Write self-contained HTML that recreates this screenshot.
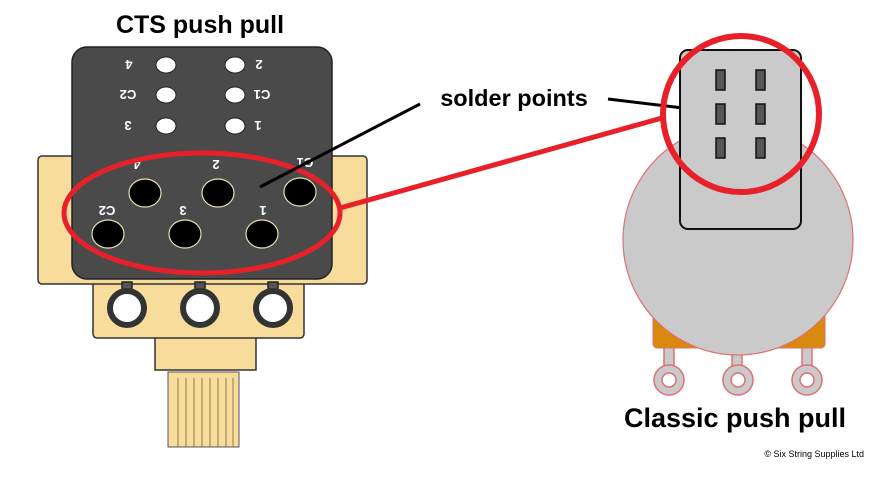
<!DOCTYPE html>
<html><head><style>body{margin:0;background:#fff}svg{display:block}text{font-family:"Liberation Sans",sans-serif}</style></head><body>
<svg width="886" height="498" viewBox="0 0 886 498" xmlns="http://www.w3.org/2000/svg">
<rect width="886" height="498" fill="#fff"/>
<text x="200" y="33" font-size="25" font-weight="bold" text-anchor="middle">CTS push pull</text>
<rect x="168" y="372" width="71" height="75" fill="#f8dc9c" stroke="#555" stroke-width="1"/>
<g stroke="#8a7a50" stroke-width="1">
<line x1="178" y1="378" x2="178" y2="447"/><line x1="186" y1="378" x2="186" y2="447"/><line x1="194" y1="378" x2="194" y2="447"/><line x1="202" y1="378" x2="202" y2="447"/><line x1="210" y1="378" x2="210" y2="447"/><line x1="218" y1="378" x2="218" y2="447"/><line x1="226" y1="378" x2="226" y2="447"/><line x1="233" y1="378" x2="233" y2="447"/></g>
<rect x="155" y="336" width="101" height="34" fill="#f8dc9c" stroke="#333" stroke-width="1.5"/>
<rect x="93" y="280" width="211" height="58" rx="4" fill="#f8dc9c" stroke="#333" stroke-width="1.5"/>
<rect x="38" y="156" width="329" height="128" rx="4" fill="#f8dc9c" stroke="#333" stroke-width="1.5"/>
<rect x="72" y="47" width="260" height="232" rx="15" fill="#4a4a4a" stroke="#222" stroke-width="1.5"/>
<g fill="#555" stroke="#222" stroke-width="1.5"><rect x="122" y="282" width="10" height="12"/><rect x="195" y="282" width="10" height="12"/><rect x="268" y="282" width="10" height="12"/></g>
<g fill="#fff" stroke="#333" stroke-width="6"><circle cx="127" cy="308" r="17"/><circle cx="200" cy="308" r="17"/><circle cx="273" cy="308" r="17"/></g>
<g fill="#fff" stroke="#222" stroke-width="1"><ellipse cx="166" cy="65" rx="10" ry="8"/><ellipse cx="235" cy="65" rx="10" ry="8"/><ellipse cx="166" cy="95" rx="10" ry="8"/><ellipse cx="235" cy="95" rx="10" ry="8"/><ellipse cx="166" cy="126" rx="10" ry="8"/><ellipse cx="235" cy="126" rx="10" ry="8"/></g>
<g fill="#fff" font-size="13" font-weight="bold" text-anchor="middle">
<text transform="translate(129,65) rotate(180)" dy="5">4</text>
<text transform="translate(128,95) rotate(180)" dy="5">C2</text>
<text transform="translate(128,126) rotate(180)" dy="5">3</text>
<text transform="translate(259,65) rotate(180)" dy="5">2</text>
<text transform="translate(262,95) rotate(180)" dy="5">C1</text>
<text transform="translate(258,126) rotate(180)" dy="5">1</text>
<text transform="translate(137,165) rotate(180)" dy="5">4</text>
<text transform="translate(216,165) rotate(180)" dy="5">2</text>
<text transform="translate(305,163) rotate(180)" dy="5">C1</text>
<text transform="translate(107,211) rotate(180)" dy="5">C2</text>
<text transform="translate(183,211) rotate(180)" dy="5">3</text>
<text transform="translate(263,211) rotate(180)" dy="5">1</text>
</g>
<g fill="#000" stroke="#e8e0b0" stroke-width="1.2"><ellipse cx="145" cy="193" rx="16" ry="14"/><ellipse cx="218" cy="193" rx="16" ry="14"/><ellipse cx="300" cy="192" rx="16" ry="14"/><ellipse cx="108" cy="234" rx="16" ry="14"/><ellipse cx="185" cy="234" rx="16" ry="14"/><ellipse cx="262" cy="234" rx="16" ry="14"/></g>
<ellipse cx="202" cy="213" rx="138" ry="60" fill="none" stroke="#e8202a" stroke-width="5"/>
<line x1="340" y1="208" x2="662" y2="118" stroke="#e8202a" stroke-width="5"/>
<line x1="260" y1="187" x2="420" y2="104" stroke="#000" stroke-width="3"/>
<text x="514" y="106" font-size="23.5" font-weight="bold" text-anchor="middle">solder points</text>
<line x1="608" y1="99" x2="708" y2="111" stroke="#000" stroke-width="3"/>
<g fill="#cacaca" stroke="#e07070" stroke-width="1.5">
<rect x="664" y="340" width="10" height="28"/><rect x="732" y="340" width="10" height="28"/><rect x="802" y="340" width="10" height="28"/>
<circle cx="669" cy="380" r="15"/><circle cx="738" cy="380" r="15"/><circle cx="807" cy="380" r="15"/></g>
<g fill="#fff" stroke="#e07070" stroke-width="1.5"><circle cx="669" cy="380" r="7"/><circle cx="738" cy="380" r="7"/><circle cx="807" cy="380" r="7"/></g>
<rect x="653" y="308" width="172" height="40" rx="4" fill="#d9890e" stroke="#e07070" stroke-width="1"/>
<circle cx="738" cy="240" r="115" fill="#cacaca" stroke="#e07070" stroke-width="1.2"/>
<rect x="680" y="50" width="121" height="179" rx="8" fill="#cacaca" stroke="#111" stroke-width="2"/>
<g fill="#555" stroke="#111" stroke-width="1.5"><rect x="716" y="70" width="9" height="20"/><rect x="756" y="70" width="9" height="20"/><rect x="716" y="104" width="9" height="20"/><rect x="756" y="104" width="9" height="20"/><rect x="716" y="138" width="9" height="20"/><rect x="756" y="138" width="9" height="20"/></g>
<circle cx="741" cy="114" r="78" fill="none" stroke="#e8202a" stroke-width="6"/>
<text x="735" y="427" font-size="27" font-weight="bold" text-anchor="middle">Classic push pull</text>
<text x="864" y="457" font-size="9" text-anchor="end" font-family="Liberation Serif">© Six String Supplies Ltd</text>
</svg>
</body></html>
